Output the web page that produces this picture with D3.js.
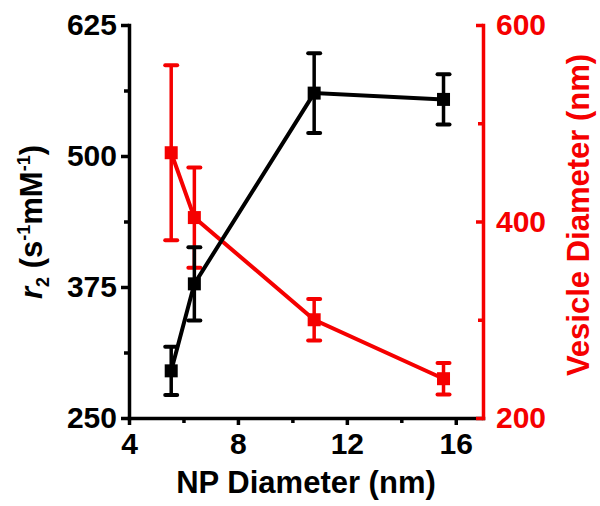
<!DOCTYPE html>
<html>
<head>
<meta charset="utf-8">
<script src="https://cdn.jsdelivr.net/npm/d3@7"></script>
<style>
  html, body { margin: 0; padding: 0; background: #fff; }
  svg text { font-family: "Liberation Sans", Arial, sans-serif; font-weight: bold; }
</style>
</head>
<body>
<svg id="chart" width="600" height="506"></svg>
<script>
// values
const npDiameter = [5.55, 6.4, 10.8, 15.55]
const r2Values = [295, 378, 560, 554]
const r2Errors = [23, 35, 38, 24]
const vesicleValues = [470, 404, 300, 240]
const vesicleErrors = [89, 51, 21, 16]

const xTicks = [4, 8, 12, 16]
const xMinorTicks = [6, 10, 14]
const r2Ticks = [250, 375, 500, 625]
const r2MinorTicks = [312.5, 437.5, 562.5]
const vesicleTicks = [200, 400, 600]
const vesicleMinorTicks = [300, 500]

const RED = '#f50000'
const BLACK = '#000000'

const svg = d3.select('#chart')

const x = d3.scaleLinear().domain([4, 17]).range([129, 483])
const yLeft = d3.scaleLinear().domain([250, 625]).range([418, 25])
const yRight = d3.scaleLinear().domain([200, 600]).range([418, 25])

const styleAxis = (g, color, fontSize) => {
  g.select('.domain').attr('stroke', color).attr('stroke-width', 3.5).attr('stroke-linecap', 'square')
  g.selectAll('.tick line').attr('stroke', color).attr('stroke-width', 3.5)
  g.selectAll('.tick text').attr('fill', color).style('font-size', `${fontSize}px`)
}

// series (red first so black sits on top)
const drawSeries = (values, errors, yScale, color) => {
  const pts = npDiameter.map((d, i) => ({x: d, y: values[i], e: errors[i]}))
  const g = svg.append('g')
  g.append('path')
    .datum(pts)
    .attr('fill', 'none')
    .attr('stroke', color)
    .attr('stroke-width', 4)
    .attr('d', d3.line().x((d) => x(d.x)).y((d) => yScale(d.y)))
  const cap = 6
  const bars = g.selectAll('.err').data(pts).join('g').attr('class', 'err')
  bars.append('line')
    .attr('x1', (d) => x(d.x)).attr('x2', (d) => x(d.x))
    .attr('y1', (d) => yScale(d.y - d.e)).attr('y2', (d) => yScale(d.y + d.e))
    .attr('stroke', color).attr('stroke-width', 3.5)
  bars.selectAll('.cap')
    .data((d) => [d.y - d.e, d.y + d.e].map((v) => ({x: d.x, v})))
    .join('line')
    .attr('class', 'cap')
    .attr('x1', (d) => x(d.x) - cap).attr('x2', (d) => x(d.x) + cap)
    .attr('y1', (d) => yScale(d.v)).attr('y2', (d) => yScale(d.v))
    .attr('stroke', color).attr('stroke-width', 4).attr('stroke-linecap', 'round')
  const size = 13
  g.selectAll('.marker').data(pts).join('rect')
    .attr('class', 'marker')
    .attr('x', (d) => x(d.x) - size / 2)
    .attr('y', (d) => yScale(d.y) - size / 2)
    .attr('width', size).attr('height', size)
    .attr('fill', color)
}

drawSeries(vesicleValues, vesicleErrors, yRight, RED)
drawSeries(r2Values, r2Errors, yLeft, BLACK)

// bottom axis
const xAxisG = svg.append('g').attr('transform', `translate(0, ${yLeft.range()[0]})`)
xAxisG.call(d3.axisBottom(x).tickValues(xTicks).tickSize(7).tickSizeOuter(0).tickPadding(8))
styleAxis(xAxisG, BLACK, 30)
const xMinorG = svg.append('g').attr('transform', `translate(0, ${yLeft.range()[0]})`)
xMinorG.call(d3.axisBottom(x).tickValues(xMinorTicks).tickSize(5).tickSizeOuter(0).tickFormat(''))
xMinorG.select('.domain').remove()
styleAxis(xMinorG, BLACK, 30)

// left axis
const leftG = svg.append('g').attr('transform', `translate(${x.range()[0]}, 0)`)
leftG.call(d3.axisLeft(yLeft).tickValues(r2Ticks).tickSize(8).tickSizeOuter(0).tickPadding(4))
styleAxis(leftG, BLACK, 30)
const leftMinorG = svg.append('g').attr('transform', `translate(${x.range()[0]}, 0)`)
leftMinorG.call(d3.axisLeft(yLeft).tickValues(r2MinorTicks).tickSize(5).tickSizeOuter(0).tickFormat(''))
leftMinorG.select('.domain').remove()
styleAxis(leftMinorG, BLACK, 30)

// right axis, ticks point inward
const rightG = svg.append('g').attr('transform', `translate(${x.range()[1]}, 0)`)
rightG.call(d3.axisRight(yRight).tickValues(vesicleTicks).tickSize(-7).tickSizeOuter(0).tickPadding(13))
styleAxis(rightG, RED, 30)
const rightMinorG = svg.append('g').attr('transform', `translate(${x.range()[1]}, 0)`)
rightMinorG.call(d3.axisRight(yRight).tickValues(vesicleMinorTicks).tickSize(-5).tickSizeOuter(0).tickFormat(''))
rightMinorG.select('.domain').remove()
styleAxis(rightMinorG, RED, 30)

// axis titles
svg.append('text')
  .attr('x', 306).attr('y', 493)
  .attr('text-anchor', 'middle')
  .style('font-size', '31px')
  .attr('fill', BLACK)
  .text('NP Diameter (nm)')

const leftTitle = svg.append('text')
  .attr('transform', 'translate(42, 222) rotate(-90)')
  .attr('text-anchor', 'middle')
  .style('font-size', '31px')
  .attr('fill', BLACK)
leftTitle.append('tspan').style('font-style', 'italic').text('r')
leftTitle.append('tspan').style('font-size', '18px').attr('dy', 7).text('2')
leftTitle.append('tspan').attr('dy', -7).text(' (s')
leftTitle.append('tspan').style('font-size', '18px').attr('dy', -12).text('-1')
leftTitle.append('tspan').attr('dy', 12).text('mM')
leftTitle.append('tspan').style('font-size', '18px').attr('dy', -12).text('-1')
leftTitle.append('tspan').attr('dy', 12).text(')')

svg.append('text')
  .attr('transform', 'translate(589, 215) rotate(-90)')
  .attr('text-anchor', 'middle')
  .style('font-size', '31px')
  .attr('fill', RED)
  .text('Vesicle Diameter (nm)')
</script>
</body>
</html>
